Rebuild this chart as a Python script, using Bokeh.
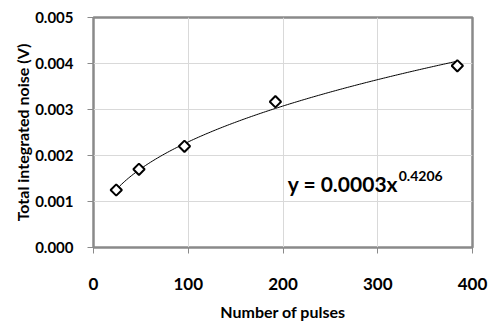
import numpy as np
from bokeh.plotting import figure
from bokeh.models import Label, FixedTicker, PrintfTickFormatter, Range1d
from bokeh.embed import file_html
from bokeh.resources import INLINE

# Data
pulses = [24, 48, 96, 192, 384]
noise = [0.00125, 0.0017, 0.0022, 0.00317, 0.00395]
x_ticks = [0, 100, 200, 300, 400]
y_ticks = [0.000, 0.001, 0.002, 0.003, 0.004, 0.005]
fit_label = "y = 0.0003x"
fit_exp_label = "0.4206"

FONT = "Lato"

# Power-law trendline fitted to the data (as Excel does)
b, ln_a = np.polyfit(np.log(pulses), np.log(noise), 1)
a = np.exp(ln_a)
xf = np.linspace(min(pulses), max(pulses), 200)
yf = a * xf ** b

p = figure(width=492, height=326, output_backend="svg", toolbar_location=None,
           x_range=Range1d(0, 400), y_range=Range1d(0, 0.005),
           min_border_left=93, min_border_right=20, min_border_top=17,
           min_border_bottom=79)

p.outline_line_color = "#8a8a8a"
p.outline_line_width = 2.5
p.background_fill_color = "white"
p.border_fill_color = "white"

p.xgrid.grid_line_color = "#d9d9d9"
p.ygrid.grid_line_color = "#d9d9d9"
p.xgrid.grid_line_width = 1
p.ygrid.grid_line_width = 1

p.xaxis.ticker = FixedTicker(ticks=x_ticks)
p.yaxis.ticker = FixedTicker(ticks=y_ticks)
p.yaxis.formatter = PrintfTickFormatter(format="%.3f")

for ax in (p.xaxis[0], p.yaxis[0]):
    ax.axis_line_color = None
    ax.major_tick_line_color = "#8a8a8a"
    ax.major_tick_in = 0
    ax.major_tick_out = 6
    ax.minor_tick_line_color = None
    ax.major_label_text_font = FONT
    ax.major_label_text_font_style = "bold"
    ax.major_label_text_color = "black"
    ax.axis_label_text_font = FONT
    ax.axis_label_text_font_style = "bold"
    ax.axis_label_text_color = "black"

p.xaxis.major_label_text_font_size = "17px"
p.yaxis.major_label_text_font_size = "15px"
p.xaxis.major_label_standoff = 24
p.yaxis.major_label_standoff = 14
p.xaxis.axis_label = "Number of pulses"
p.yaxis.axis_label = "Total integrated noise (V)"
p.xaxis.axis_label_text_font_size = "16px"
p.yaxis.axis_label_text_font_size = "16px"
p.xaxis.axis_label_standoff = 9
p.yaxis.axis_label_standoff = 0

p.line(xf, yf, line_color="black", line_width=1)
p.scatter(pulses, noise, marker="square", angle=np.pi / 4, size=8,
          fill_color="white", line_color="black", line_width=2)

p.add_layout(Label(x=205, y=0.001276, y_offset=5, text=fit_label, text_font=FONT,
                   text_font_style="bold", text_font_size="21px",
                   text_color="black", text_baseline="alphabetic"))
p.add_layout(Label(x=205, y=0.001276, x_offset=111, y_offset=13, text=fit_exp_label,
                   text_font=FONT, text_font_style="bold", text_font_size="14px",
                   text_color="black", text_baseline="alphabetic"))

open("out.html", "w").write(file_html(p, INLINE))
